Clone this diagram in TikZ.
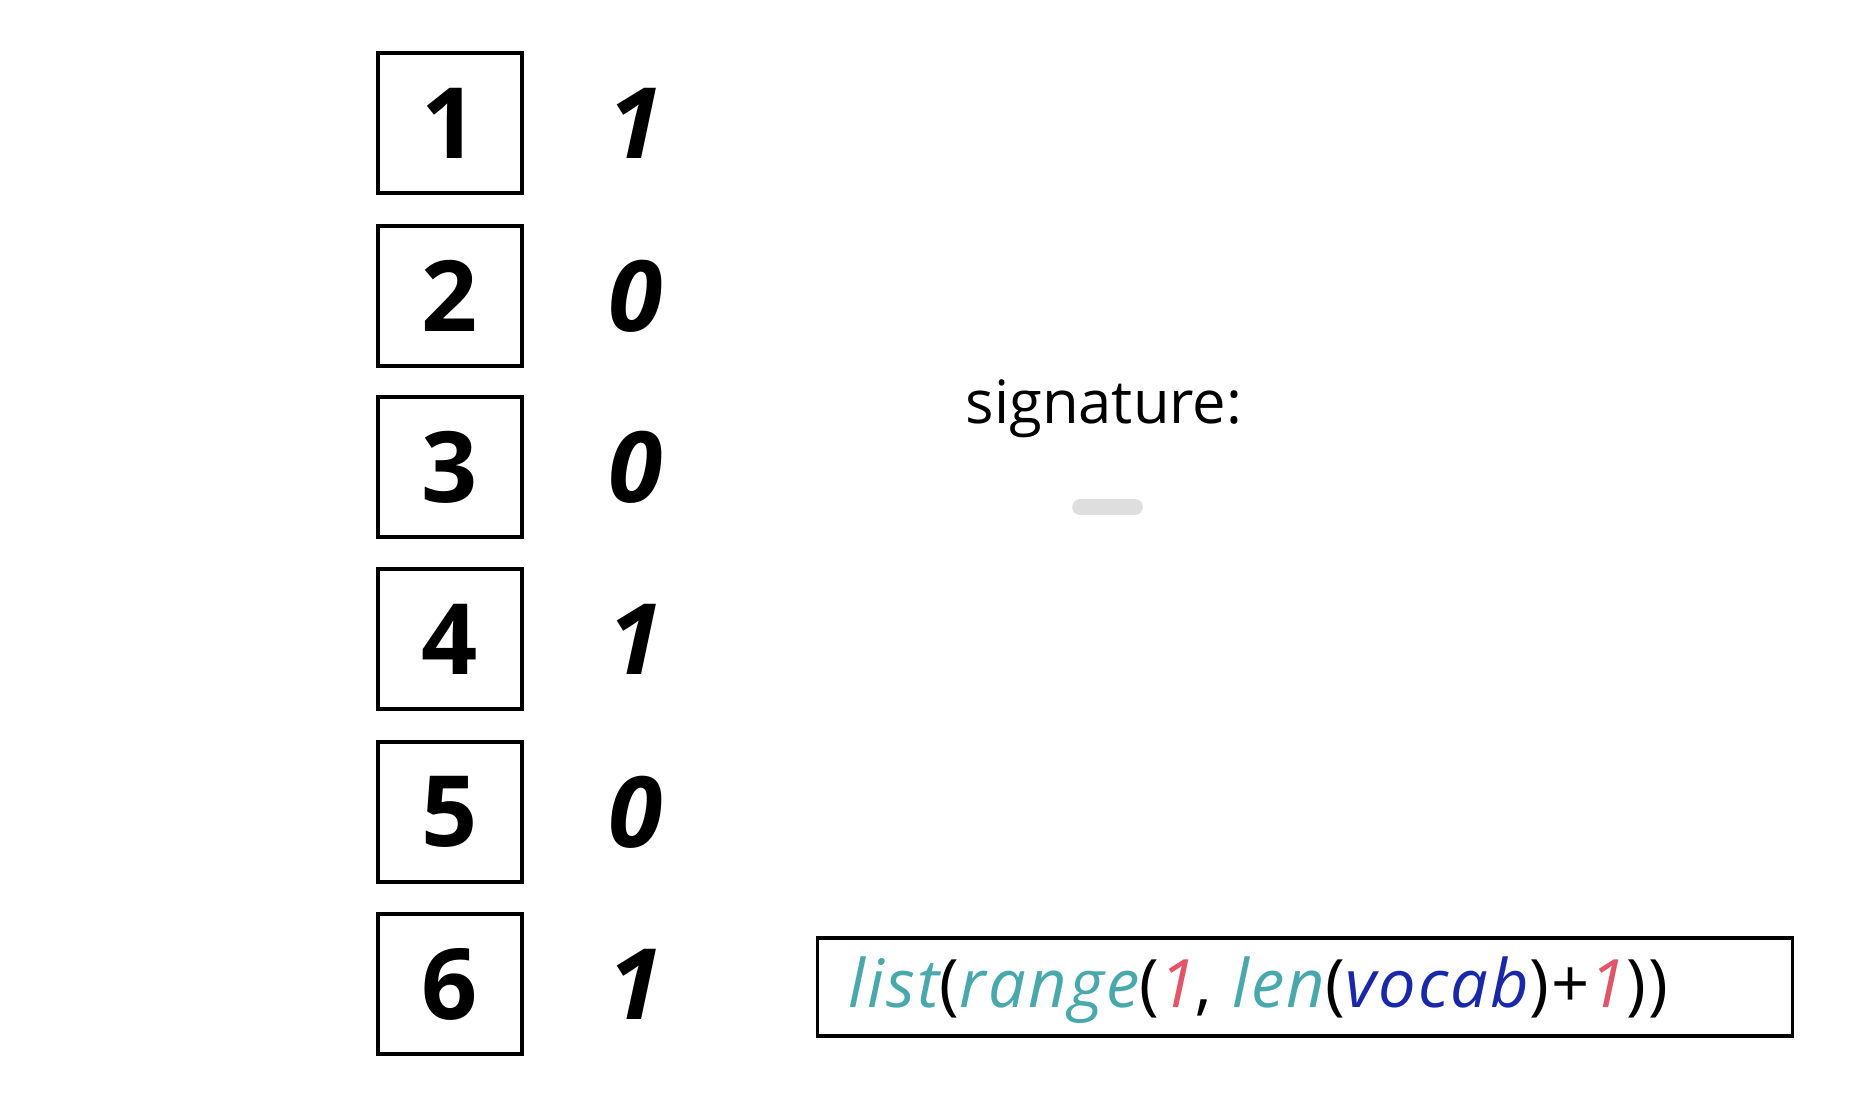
\documentclass[tikz,border=0pt]{standalone}
\usepackage{fontspec}
\setmainfont{Open Sans}
\usepackage{tikz}
\definecolor{sktteal}{RGB}{72,168,172}
\definecolor{sktred}{RGB}{226,84,104}
\definecolor{sktblue}{RGB}{24,40,168}
\definecolor{sktgray}{RGB}{222,222,222}

\begin{document}
\begin{tikzpicture}[
  x=0.02cm, y=-0.02cm,
  idx/.style={rectangle, draw=black, line width=2.8pt, minimum width=2.88cm, minimum height=2.8cm, inner sep=0pt, font=\fontsize{56}{60}\selectfont\bfseries},
  bit/.style={inner sep=0pt, font=\fontsize{56}{60}\selectfont\bfseries\itshape},
  codebox/.style={rectangle, draw=black, line width=2pt, minimum width=19.5cm, minimum height=1.96cm, inner sep=0pt},
  label/.style={inner sep=0pt, font=\fontsize{34}{38}\selectfont}
]
\useasboundingbox (0,0) rectangle (1872,1096);

% Left column - indices
\node[idx] (idx1) at (450,123) {1};
\node[idx] (idx2) at (450,296) {2};
\node[idx] (idx3) at (450,467) {3};
\node[idx] (idx4) at (450,639) {4};
\node[idx] (idx5) at (450,812) {5};
\node[idx] (idx6) at (450,984) {6};

% Right column - bits
\node[bit] (bit1) at (636,123) {1};
\node[bit] (bit2) at (636,296) {0};
\node[bit] (bit3) at (636,467) {0};
\node[bit] (bit4) at (636,639) {1};
\node[bit] (bit5) at (636,812) {0};
\node[bit] (bit6) at (636,984) {1};

% Signature
\node[label] (sig) at (1104,409) {signature:};
\draw[sktgray, line width=9pt, line cap=round] (1080,507) -- (1135,507);

% Code
\node[codebox] (code) at (1305,987) {};
\node[anchor=west, inner sep=0pt, font=\fontsize{38}{42}\selectfont\addfontfeature{LetterSpace=3.5}] (codetext) at (848,990)
  {\textit{\textcolor{sktteal}{list}}(\textit{\textcolor{sktteal}{range}}(\textit{\textcolor{sktred}{1}}, \textit{\textcolor{sktteal}{len}}(\textit{\textcolor{sktblue}{vocab}})+\textit{\textcolor{sktred}{1}}))};

\end{tikzpicture}
\end{document}
